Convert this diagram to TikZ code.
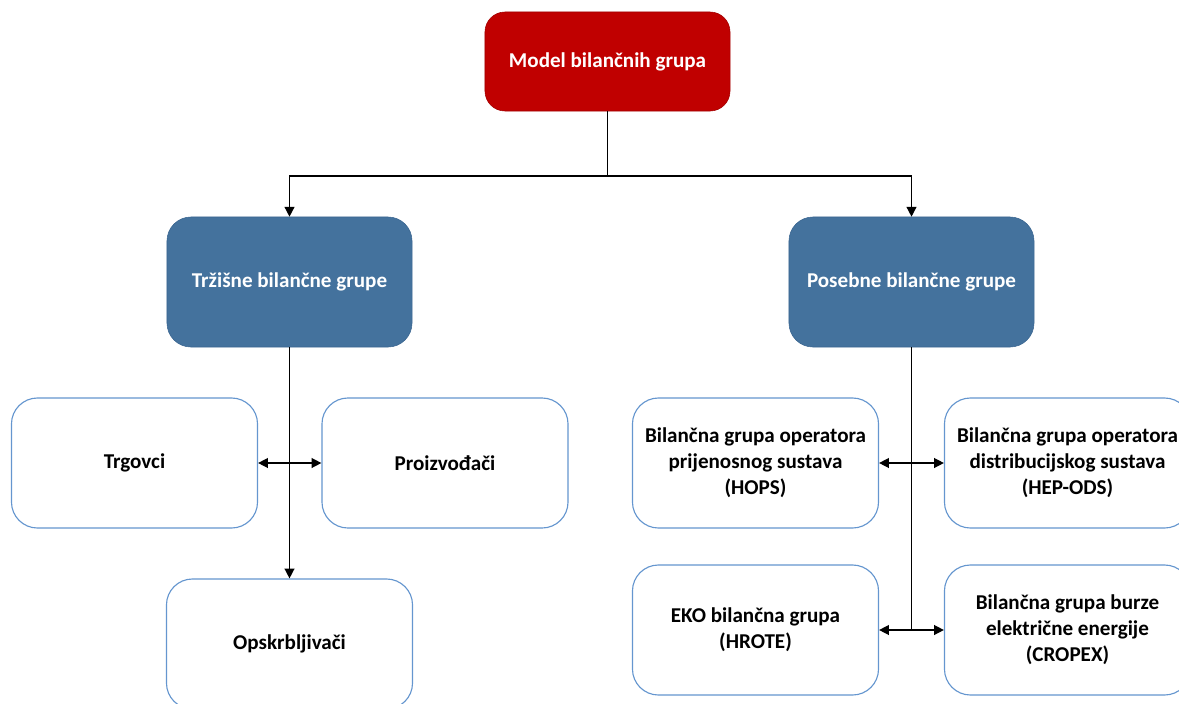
\documentclass[tikz,border=0pt]{standalone}
\usepackage{fontspec}
\setmainfont{Carlito}
\usetikzlibrary{positioning,arrows.meta}
\definecolor{modelred}{HTML}{C00000}
\definecolor{grpblue}{HTML}{44729D}
\definecolor{grpedge}{HTML}{3A6590}
\definecolor{subedge}{HTML}{6596CF}
\tikzstyle{mainbox} = [rectangle, rounded corners=0.5cm, minimum width=6.125cm, minimum height=2.475cm, text centered, draw=modelred!85!black, fill=modelred, text=white, font=\fontsize{15}{18.5}\selectfont\bfseries]
\tikzstyle{grpbox} = [rectangle, rounded corners=0.6cm, minimum width=6.125cm, minimum height=3.25cm, text centered, draw=grpedge, fill=grpblue, text=white, font=\fontsize{15}{18.5}\selectfont\bfseries]
\tikzstyle{subbox} = [rectangle, rounded corners=0.65cm, minimum width=6.15cm, minimum height=3.25cm, align=center, draw=subedge, line width=0.8pt, fill=white, font=\fontsize{15}{18.5}\selectfont\bfseries]
\tikzstyle{arrow} = [line width=1pt,-{Triangle[length=7pt,width=7pt]}]
\tikzstyle{dblarrow} = [line width=1pt,{Triangle[length=7pt,width=7pt]}-{Triangle[length=7pt,width=7pt]}]

\begin{document}
\begin{tikzpicture}[x=0.025cm,y=-0.025cm]
\useasboundingbox (0,0) rectangle (1179,704);
\clip (0,0) rectangle (1179,704);
\node (model) [mainbox] at (607.5,61.5) {Model bilančnih grupa};
\node (trz) [grpbox] at (289.5,282) {Tržišne bilančne grupe};
\node (pos) [grpbox] at (911.5,282) {Posebne bilančne grupe};
\node (trg) [subbox] at (134.5,463) {Trgovci};
\node (pro) [subbox] at (445,463) {Proizvođači};
\node (ops) [subbox] at (289.5,644) {Opskrbljivači};
\node (hops) [subbox] at (755.5,463) {Bilančna grupa operatora\\prijenosnog sustava\\(HOPS)};
\node (hep) [subbox] at (1067.5,463) {Bilančna grupa operatora\\distribucijskog sustava\\(HEP-ODS)};
\node (eko) [subbox] at (755.5,630) {EKO bilančna grupa\\(HROTE)};
\node (crop) [subbox] at (1067.5,630) {Bilančna grupa burze\\električne energije\\(CROPEX)};
\coordinate (split) at (607.5,176);
\coordinate (rend) at (911.5,630);
%% top level
\draw[arrow] (model) -- (split) -| (trz);
\draw[arrow] (split) -| (pos);
%% left branch
\draw[arrow] (trz) -- (ops);
\draw[dblarrow] (trg) -- (pro);
%% right branch
\draw[line width=1pt] (pos) -- (rend);
\draw[dblarrow] (hops) -- (hep);
\draw[dblarrow] (eko) -- (crop);
\end{tikzpicture}
\end{document}
